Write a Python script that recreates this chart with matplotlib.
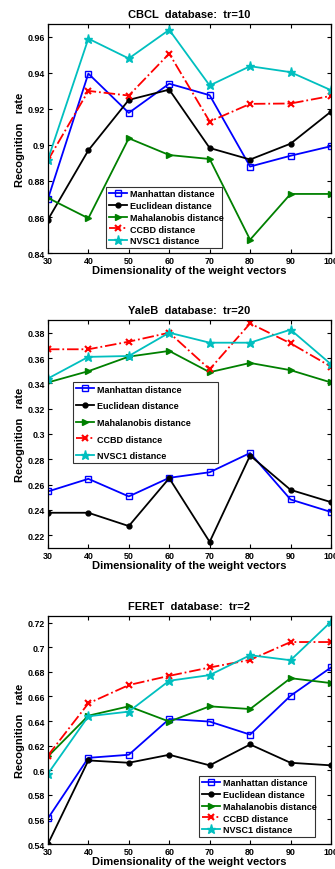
import numpy as np
import matplotlib
matplotlib.use("Agg")
import matplotlib.pyplot as plt

plt.rcParams['font.family'] = ['Liberation Sans', 'DejaVu Sans']
plt.rcParams['font.weight'] = 'bold'

dims = [30, 40, 50, 60, 70, 80, 90, 100]
names = ['Manhattan distance', 'Euclidean distance', 'Mahalanobis distance',
         'CCBD distance', 'NVSC1 distance']

# CBCL, tr=10
cbcl_manhattan = [0.870, 0.9396, 0.9178, 0.934, 0.9276, 0.888, 0.894, 0.8993]
cbcl_euclidean = [0.8585, 0.897, 0.925, 0.9307, 0.8983, 0.8919, 0.9007, 0.9185]
cbcl_mahal = [0.8706, 0.8593, 0.9037, 0.8944, 0.8922, 0.8474, 0.8728, 0.8728]
cbcl_ccbd = [0.8915, 0.930, 0.9274, 0.9507, 0.913, 0.9228, 0.923, 0.9272]
cbcl_nvsc1 = [0.8919, 0.959, 0.948, 0.9639, 0.933, 0.9437, 0.9404, 0.9304]

# YaleB, tr=20
yale_manhattan = [0.2546, 0.2646, 0.2507, 0.2654, 0.2698, 0.285, 0.2483, 0.2384]
yale_euclidean = [0.2378, 0.2378, 0.2273, 0.2651, 0.2148, 0.283, 0.2559, 0.2462]
yale_mahal = [0.3407, 0.3496, 0.3611, 0.3656, 0.3488, 0.3561, 0.3504, 0.3407]
yale_ccbd = [0.3669, 0.3669, 0.3729, 0.380, 0.3511, 0.3873, 0.3716, 0.3532]
yale_nvsc1 = [0.3438, 0.3609, 0.3616, 0.380, 0.3721, 0.3721, 0.3824, 0.3551]

# FERET, tr=2
feret_manhattan = [0.5608, 0.6101, 0.6126, 0.6417, 0.6396, 0.629, 0.6606, 0.6836]
feret_euclidean = [0.540, 0.608, 0.6061, 0.6126, 0.604, 0.621, 0.6061, 0.604]
feret_mahal = [0.6112, 0.6444, 0.652, 0.6396, 0.652, 0.6498, 0.6749, 0.6709]
feret_ccbd = [0.612, 0.6544, 0.6693, 0.6768, 0.6836, 0.6898, 0.7043, 0.7043]
feret_nvsc1 = [0.5972, 0.6439, 0.6477, 0.6728, 0.6774, 0.6936, 0.6895, 0.7208]

cyan = (0.0, 0.75, 0.75)
styles = [
    dict(color='blue', marker='s', ls='-', mfc='none', ms=4.5),
    dict(color='black', marker='o', ls='-', mfc='black', ms=3.5),
    dict(color=(0, 0.5, 0), marker='>', ls='-', mfc=(0, 0.5, 0), ms=4),
    dict(color='red', marker='x', ls='-.', ms=5, mew=1.5),
    dict(color=cyan, marker='*', ls='-', mfc=cyan, ms=6.5),
]

# title, series, ylim, yticks, axes (bottom, height), legend box (x, y, w), spacing
panels = [
    ('CBCL  database:  tr=10',
     [cbcl_manhattan, cbcl_euclidean, cbcl_mahal, cbcl_ccbd, cbcl_nvsc1],
     (0.84, 0.967), [0.84, 0.86, 0.88, 0.9, 0.92, 0.94, 0.96],
     (0.708, 0.263), (0.205, 0.022, 0.41), 0.3),
    ('YaleB  database:  tr=20',
     [yale_manhattan, yale_euclidean, yale_mahal, yale_ccbd, yale_nvsc1],
     (0.21, 0.39), [0.22, 0.24, 0.26, 0.28, 0.3, 0.32, 0.34, 0.36, 0.38],
     (0.369, 0.262), (0.088, 0.373, 0.512), 0.85),
    ('FERET  database:  tr=2',
     [feret_manhattan, feret_euclidean, feret_mahal, feret_ccbd, feret_nvsc1],
     (0.54, 0.7254), [0.54, 0.56, 0.58, 0.6, 0.62, 0.64, 0.66, 0.68, 0.7, 0.72],
     (0.0287, 0.262), (0.534, 0.031, 0.41), 0.3),
]

fig = plt.figure(figsize=(3.35, 8.7), dpi=100)

for title, series, ylim, yticks, (bot, h), (lx, ly, lw), lsp in panels:
    ax = fig.add_axes([0.143, bot, 0.845, h])
    for vals, name, st in zip(series, names, styles):
        ax.plot(dims, vals, lw=1.3, label=name, **st)
    ax.set_xlim(30, 100)
    ax.set_ylim(*ylim)
    ax.set_xticks(dims)
    ax.set_yticks(yticks)
    ax.set_yticklabels([('%g' % t) for t in yticks])
    ax.tick_params(direction='in', labelsize=6.4, length=3, width=0.8, pad=2,
                   top=True, right=True)
    for lab in ax.get_xticklabels() + ax.get_yticklabels():
        lab.set_fontweight('bold')
    for sp in ax.spines.values():
        sp.set_linewidth(0.9)
    ax.set_title(title, fontsize=8, fontweight='bold', pad=5)
    ax.set_xlabel('Dimensionality of the weight vectors', fontsize=8,
                  fontweight='bold', labelpad=0)
    ax.set_ylabel('Recognition   rate', fontsize=8, fontweight='bold',
                  labelpad=2)
    leg = ax.legend(loc='lower left', bbox_to_anchor=(lx, ly, lw, 0.1),
                    mode='expand', fontsize=6.5, frameon=True, fancybox=False,
                    edgecolor='black', borderpad=0.3, labelspacing=lsp,
                    handlelength=2.0, handletextpad=0.4, borderaxespad=0)
    leg.get_frame().set_linewidth(0.8)
    for t in leg.get_texts():
        t.set_fontweight('bold')

fig.savefig('out.png', dpi=100)
